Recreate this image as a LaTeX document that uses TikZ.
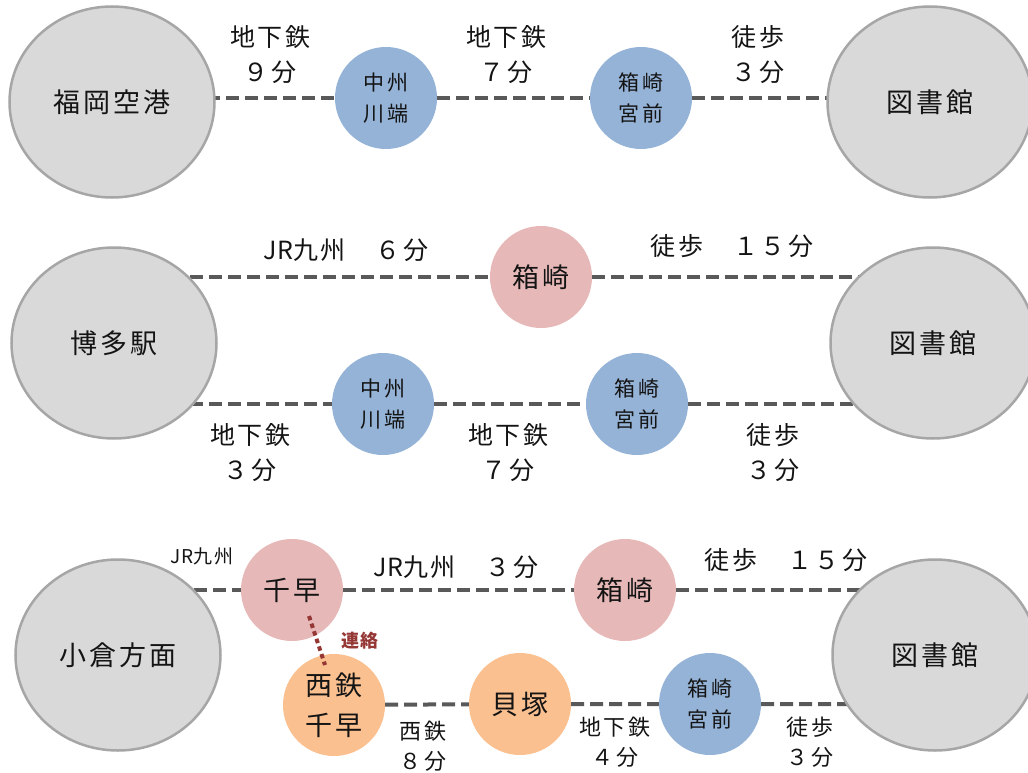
\documentclass[tikz,border=0pt]{standalone}
\usepackage{fontspec}
\setmainfont{Noto Sans CJK JP}
\newfontfamily\jpsp[LetterSpace=10]{Noto Sans CJK JP}
\newfontfamily\jpn{Noto Sans CJK JP}
\usetikzlibrary{shapes.geometric,backgrounds}
\definecolor{termfill}{HTML}{D9D9D9}
\definecolor{termline}{HTML}{A6A6A6}
\definecolor{stblue}{HTML}{95B3D7}
\definecolor{stpink}{HTML}{E6B9B8}
\definecolor{storange}{HTML}{FAC090}
\definecolor{connc}{HTML}{595959}
\definecolor{renc}{HTML}{953735}
\definecolor{txt}{HTML}{141414}
\tikzset{
  term/.style={ellipse, draw=termline, line width=2.5pt, fill=termfill, minimum width=205pt, minimum height=191pt, inner sep=0pt, text=txt, font=\jpsp\fontsize{27}{30}\selectfont},
  stn/.style={circle, minimum size=102pt, inner sep=0pt, align=center, text=txt},
  bluestn/.style={stn, fill=stblue, font=\jpsp\fontsize{21}{31}\selectfont},
  pinkstn/.style={stn, fill=stpink, font=\jpsp\fontsize{27}{38}\selectfont},
  orangestn/.style={stn, fill=storange, font=\jpsp\fontsize{27}{40}\selectfont},
  lbl/.style={align=center, inner sep=0pt, text=txt, font=\jpsp\fontsize{25}{35}\selectfont},
  slbl/.style={align=center, inner sep=0pt, text=txt, font=\jpsp\fontsize{22}{30}\selectfont},
  conn/.style={draw=connc, line width=4pt, dash pattern=on 13pt off 6pt},
  renraku/.style={draw=renc, line width=4pt, dash pattern=on 4.5pt off 3.5pt},
}
\begin{document}
\begin{tikzpicture}[x=1pt,y=-1pt]
\useasboundingbox (0,0) rectangle (1028,773);
% row 1
\node[term] (fukuoka) at (112,102) {福岡空港};
\node[bluestn] (chusu1) at (386,98) {中州\\川端};
\node[bluestn] (hakomiya1) at (641,98) {箱崎\\宮前};
\node[term] (lib1) at (930,102) {図書館};
\node[lbl] (l1a) at (270,55) {地下鉄\\９分};
\node[lbl] (l1b) at (506,55) {地下鉄\\７分};
\node[lbl] (l1c) at (758,55) {徒歩\\３分};
% row 2
\node[term] (hakata) at (114,343) {博多駅};
\node[pinkstn] (hakozaki2) at (541,277) {箱崎};
\node[bluestn] (chusu2) at (383,404) {中州\\川端};
\node[bluestn] (hakomiya2) at (637,404) {箱崎\\宮前};
\node[term] (lib2) at (933,343) {図書館};
\node[lbl] (l2a) at (346,250) {{\jpn JR}九州　６分};
\node[lbl] (l2b) at (732,246) {徒歩　１５分};
\node[lbl] (l2c) at (250,453) {地下鉄\\３分};
\node[lbl] (l2d) at (508,453) {地下鉄\\７分};
\node[lbl] (l2e) at (773,453) {徒歩\\３分};
% row 3
\node[term] (kokura) at (118,655) {小倉方面};
\node[pinkstn] (senhaya) at (292,590) {千早};
\node[pinkstn] (hakozaki3) at (625,590) {箱崎};
\node[orangestn] (nishi) at (334,705) {西鉄\\千早};
\node[orangestn] (kaizuka) at (520,704) {貝塚};
\node[bluestn] (hakomiya3) at (710,704) {箱崎\\宮前};
\node[term] (lib3) at (935,655) {図書館};
\node[inner sep=0pt, text=txt, font=\jpsp\fontsize{19}{22}\selectfont] (l3a) at (202,556) {{\jpn JR}九州};
\node[lbl] (l3b) at (456,567) {{\jpn JR}九州　３分};
\node[lbl] (l3c) at (786,560) {徒歩　１５分};
\node[slbl] (l3d) at (423,746) {西鉄\\８分};
\node[slbl] (l3e) at (615,742) {地下鉄\\４分};
\node[slbl] (l3f) at (810,742) {徒歩\\３分};
\node[inner sep=0pt, text=renc, font=\jpsp\fontsize{18}{20}\selectfont\bfseries] (l3g) at (360,641) {連絡};
% connectors
\begin{scope}[on background layer]
\draw[conn] (fukuoka |- chusu1) -- (chusu1) -- (hakomiya1) -- (lib1 |- hakomiya1);
\draw[conn] (hakata |- hakozaki2) -- (hakozaki2) -- (lib2 |- hakozaki2);
\draw[conn] (hakata |- chusu2) -- (chusu2) -- (hakomiya2) -- (lib2 |- hakomiya2);
\draw[conn] (kokura |- senhaya) -- (senhaya) -- (hakozaki3) -- (lib3 |- hakozaki3);
\draw[conn] (nishi) -- (kaizuka) -- (hakomiya3) -- (lib3 |- hakomiya3);
\end{scope}
\draw[renraku] ([xshift=17pt,yshift=-26pt]senhaya.center) -- ([xshift=-9pt,yshift=40pt]nishi.center);
\end{tikzpicture}
\end{document}
